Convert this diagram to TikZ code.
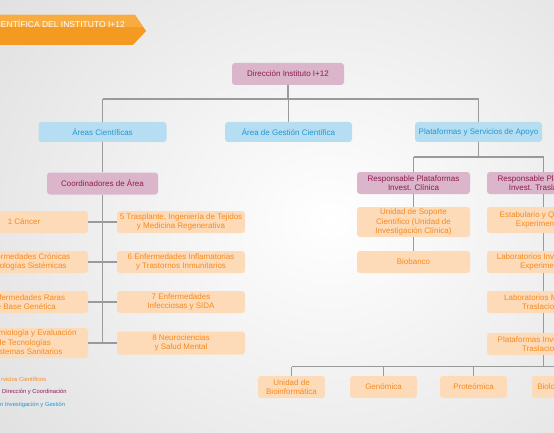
\documentclass[tikz,border=0pt]{standalone}
\usepackage{fontspec}
\setmainfont{Liberation Sans}
\definecolor{orfill}{HTML}{FDDBB9}
\definecolor{ortext}{HTML}{F58A1F}
\definecolor{pkfill}{HTML}{DBB5C9}
\definecolor{pktext}{HTML}{8C1D52}
\definecolor{blfill}{HTML}{B6DEF2}
\definecolor{bltext}{HTML}{2396D1}
\definecolor{linec}{HTML}{9A9A9A}
\definecolor{banlight}{HTML}{F8AC40}
\definecolor{bandark}{HTML}{F49A22}
\tikzset{
  boxbase/.style={draw=none, rounded corners=3pt, align=center, inner sep=1pt,
    font=\fontsize{8}{9.5}\selectfont},
  orbox/.style={boxbase, fill=orfill, text=ortext},
  pkbox/.style={boxbase, fill=pkfill, text=pktext},
  blbox/.style={boxbase, fill=blfill, text=bltext},
  conn/.style={draw=linec, line width=1.3pt},
  legtext/.style={anchor=west, inner sep=0pt, font=\fontsize{5.8}{7}\selectfont}
}
\begin{document}
\begin{tikzpicture}[x=1pt,y=-1pt]
\useasboundingbox (0,0) rectangle (554,433);
\clip (0,0) rectangle (554,433);
\shade[inner color=white, outer color=black!14] (-170,-200) rectangle (830,640);
% banner
\fill[bandark] (-2,15) -- (135,15) -- (146,31) -- (133,45) -- (-2,45) -- cycle;
\fill[banlight] (-2,15) -- (135,15) -- (143,27) -- (-2,27) -- cycle;
\node[anchor=base east, inner sep=0pt, text=white, font=\fontsize{8.5}{10}\selectfont] (title) at (125,27.5) {CIENTÍFICA DEL INSTITUTO I+12};

% top
\node[pkbox, minimum width=112pt, minimum height=22pt] (dir) at (288,74) {Dirección Instituto I+12};
\node[blbox, minimum width=128pt, minimum height=20pt] (areas) at (102.5,132) {Áreas Científicas};
\node[blbox, minimum width=127pt, minimum height=20pt] (gest) at (288.5,132) {Área de Gestión Científica};
\node[blbox, minimum width=127pt, minimum height=20pt] (plat) at (478.5,132) {Plataformas y Servicios de Apoyo};
\coordinate (hl) at (0,99);
\draw[conn] (dir.south) -- (dir.south |- hl);
\draw[conn] (areas.north |- hl) -- (plat.north |- hl);
\draw[conn] (areas.north |- hl) -- (areas.north);
\draw[conn] (gest.north |- hl) -- (gest.north);
\draw[conn] (plat.north |- hl) -- (plat.north);

% scientific areas
\node[pkbox, minimum width=111pt, minimum height=22pt] (coord) at (102.5,183.5) {Coordinadores de Área};
\draw[conn] (areas.south) -- (coord.north);
\node[orbox, minimum width=128pt, minimum height=22pt] (l1) at (24,222) {1 Cáncer};
\node[orbox, minimum width=128pt, minimum height=22pt] (l2) at (24,262) {2 Enfermedades Crónicas\\y Patologías Sistémicas};
\node[orbox, minimum width=128pt, minimum height=22pt] (l3) at (24,302) {3 Enfermedades Raras\\de Base Genética};
\node[orbox, minimum width=128pt, minimum height=30pt] (l4) at (24,343) {4 Epidemiología y Evaluación\\de Tecnologías\\y Sistemas Sanitarios};
\node[orbox, minimum width=128pt, minimum height=22pt] (r1) at (181,222) {5 Trasplante, Ingeniería de Tejidos\\y Medicina Regenerativa};
\node[orbox, minimum width=128pt, minimum height=22pt] (r2) at (181,262) {6 Enfermedades Inflamatorias\\y Trastornos Inmunitarios};
\node[orbox, minimum width=128pt, minimum height=22pt] (r3) at (181,302) {7 Enfermedades\\Infecciosas y SIDA};
\node[orbox, minimum width=128pt, minimum height=23pt] (r4) at (181,343) {8 Neurociencias\\y Salud Mental};
\draw[conn] (coord.south) -- (coord.south |- l4.east);
\draw[conn] (l1.east) -- (r1.west);
\draw[conn] (l2.east) -- (r2.west);
\draw[conn] (l3.east) -- (r3.west);
\draw[conn] (l4.east) -- (r4.west);

% platforms
\node[pkbox, minimum width=113pt, minimum height=22pt] (rc) at (413.5,183) {Responsable Plataformas\\Invest. Clínica};
\node[pkbox, minimum width=113pt, minimum height=22pt] (rt) at (543.5,183) {Responsable Plataformas\\Invest. Traslacional};
\coordinate (pl) at (0,157);
\draw[conn] (plat.south) -- (plat.south |- pl);
\draw[conn] (rc.north |- pl) -- (rt.north |- pl);
\draw[conn] (rc.north |- pl) -- (rc.north);
\draw[conn] (rt.north |- pl) -- (rt.north);
\node[orbox, minimum width=113pt, minimum height=30pt] (usc) at (413.5,222) {Unidad de Soporte\\Científico (Unidad de\\Investigación Clínica)};
\node[orbox, minimum width=113pt, minimum height=22pt] (biob) at (413.5,262) {Biobanco};
\draw[conn] (rc.south) -- (usc.north);
\draw[conn] (usc.south) -- (biob.north);
\node[orbox, minimum width=113pt, minimum height=26pt] (est) at (543.5,220) {Estabulario y Quirófanos\\Experimentales};
\node[orbox, minimum width=113pt, minimum height=22pt] (lie) at (543.5,262) {Laboratorios Investigación\\Experimental};
\node[orbox, minimum width=113pt, minimum height=22pt] (lmt) at (543.5,302) {Laboratorios Medicina\\Traslacional};
\node[orbox, minimum width=113pt, minimum height=22pt] (pit) at (543.5,344) {Plataformas Investigación\\Traslacional};
\draw[conn] (rt.south) -- (est.north);
\draw[conn] (est.south) -- (lie.north);
\draw[conn] (lie.south) -- (lmt.north);
\draw[conn] (lmt.south) -- (pit.north);
\coordinate (bl) at (0,366.5);
\draw[conn] (pit.south) -- (pit.south |- bl);
\node[orbox, minimum width=67pt, minimum height=22pt] (binf) at (291.5,387) {Unidad de\\Bioinformática};
\node[orbox, minimum width=67pt, minimum height=22pt] (gen) at (383.5,387) {Genómica};
\node[orbox, minimum width=67pt, minimum height=22pt] (prot) at (473.5,387) {Proteómica};
\node[orbox, minimum width=67pt, minimum height=22pt] (biol) at (565.5,387) {Biología Celular};
\draw[conn] (binf.north |- bl) -- (biol.north |- bl);
\draw[conn] (binf.north |- bl) -- (binf.north);
\draw[conn] (gen.north |- bl) -- (gen.north);
\draw[conn] (prot.north |- bl) -- (prot.north);
\draw[conn] (biol.north |- bl) -- (biol.north);

% legend
\node[legtext, text=ortext] (lg1) at (1,379) {rvicios Científicos};
\node[legtext, text=pktext] (lg2) at (2,392) {Dirección y Coordinación};
\node[legtext, text=bltext] (lg3) at (0,405) {n Investigación y Gestión};
\end{tikzpicture}
\end{document}
